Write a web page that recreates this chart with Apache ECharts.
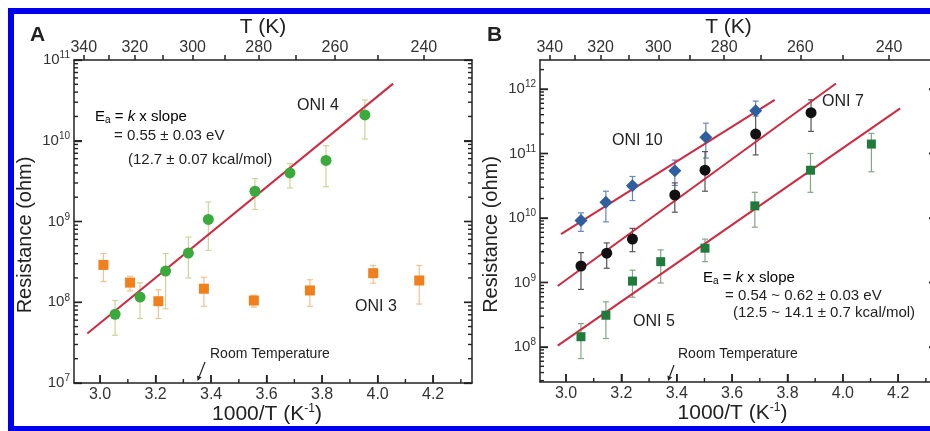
<!DOCTYPE html>
<html>
<head>
<meta charset="utf-8">
<script src="https://cdn.jsdelivr.net/npm/echarts@6/dist/echarts.min.js"></script>
<style>
  html, body { margin: 0; background: #fff; }
  #chart { width: 930px; height: 431px; }
</style>
</head>
<body>
<div id="chart"></div>
<script>
// each point: [1000/T, R, R low, R high]   (R in ohm)
const oni4 = [
  [3.054, 7.1e7, 3.9e7, 1.05e8], [3.144, 1.16e8, 6.3e7, 1.74e8], [3.236, 2.43e8, 8.3e7, 4.0e8],
  [3.318, 4.06e8, 2.0e8, 6.4e8], [3.390, 1.06e9, 4.4e8, 1.74e9], [3.558, 2.37e9, 1.41e9, 3.4e9],
  [3.684, 4.0e9, 2.6e9, 5.2e9], [3.814, 5.7e9, 2.7e9, 8.7e9], [3.954, 2.09e10, 1.05e10, 3.2e10]
];
const oni3 = [
  [3.012, 2.9e8, 1.8e8, 4.0e8], [3.108, 1.75e8, 1.38e8, 2.1e8], [3.210, 1.03e8, 6.3e7, 1.43e8],
  [3.374, 1.47e8, 8.9e7, 2.04e8], [3.554, 1.05e8, 8.7e7, 1.22e8], [3.756, 1.40e8, 8.9e7, 1.9e8],
  [3.984, 2.29e8, 1.72e8, 2.85e8], [4.150, 1.86e8, 9.5e7, 2.85e8]
];
const fitA = [[2.954, 4.1e7], [4.056, 5.1e10]];

const oni10 = [
  [3.054, 9.1e9, 6.2e9, 1.2e10], [3.144, 1.75e10, 8.7e9, 2.6e10], [3.240, 3.16e10, 1.86e10, 4.4e10],
  [3.393, 5.4e10, 3.2e10, 7.9e10], [3.505, 1.78e11, 8.5e10, 2.95e11], [3.685, 4.6e11, 3.8e11, 6.5e11]
];
const oni7 = [
  [3.054, 1.8e9, 7.8e8, 2.9e9], [3.147, 2.84e9, 1.66e9, 4.1e9], [3.240, 4.7e9, 3.0e9, 6.9e9],
  [3.393, 2.27e10, 1.23e10, 3.5e10], [3.502, 5.5e10, 2.6e10, 1.07e11], [3.685, 2.0e11, 9.5e10, 4.2e11],
  [3.885, 4.3e11, 2.2e11, 6.8e11]
];
const oni5 = [
  [3.054, 1.44e8, 6.6e7, 2.3e8], [3.144, 3.1e8, 1.35e8, 5.0e8], [3.240, 1.05e9, 5.9e8, 1.55e9],
  [3.342, 2.1e9, 9.8e8, 3.2e9], [3.502, 3.4e9, 2.1e9, 4.7e9], [3.682, 1.54e10, 7.2e9, 2.5e10],
  [3.883, 5.5e10, 2.5e10, 1.0e11], [4.103, 1.4e11, 5.2e10, 2.05e11]
];
const fit10 = [[2.982, 5.6e9], [3.754, 6.8e11]];
const fit7 = [[2.970, 8.8e8], [3.975, 1.22e12]];
const fit5 = [[2.970, 1.05e8], [4.207, 5.0e11]];

// tick labels
const xMajor = [3.0, 3.2, 3.4, 3.6, 3.8, 4.0, 4.2];
const xMinor = [3.1, 3.3, 3.5, 3.7, 3.9, 4.1, 4.3];
const tempMajor = [340, 320, 300, 280, 260, 240];
const tempMinor = [330, 310, 290, 270, 250];
const decadesA = [7, 8, 9, 10, 11];
const decadesB = [8, 9, 10, 11, 12];

const X_MIN = 2.906, X_MAX = 4.34;
const Y_A = [7, 11];
const Y_B = [7.456, 12.45];
const FONT = '"Liberation Sans", Arial, sans-serif';
const INK = '#222';

var chart = echarts.init(document.getElementById('chart'));

// resistance axis is drawn as a linear axis of log10(R)
const lg = Math.log10;

const axisLine = { show: true, onZero: false, lineStyle: { color: INK, width: 1.5 } };

function xAxes(grid) {
  const base = { gridIndex: grid, type: 'value', min: X_MIN, max: X_MAX, splitLine: { show: false } };
  return [
    Object.assign({}, base, {
      position: 'bottom',
      name: '{n|1000/T (K}{s|-1}{n|)}', nameLocation: 'middle', nameGap: 20, nameMoveOverlap: false,
      nameTextStyle: {
        padding: [0, 12, 0, 0],
        rich: { n: { fontSize: 21, color: INK, fontFamily: FONT }, s: { fontSize: 12, color: INK, fontFamily: FONT, padding: [0, 0, 10, 0] } }
      },
      axisLine: axisLine,
      axisTick: { show: true, inside: true, length: 8, customValues: xMajor, lineStyle: { color: INK, width: 1.5 } },
      axisLabel: { customValues: xMajor, formatter: v => v.toFixed(1), fontSize: 16, color: '#333', fontFamily: FONT, margin: 4 }
    }),
    Object.assign({}, base, {
      position: 'top',
      name: 'T (K)', nameLocation: 'middle', nameGap: 22, nameMoveOverlap: false,
      nameTextStyle: { fontSize: 21, color: INK, fontFamily: FONT, padding: [0, 20, 0, 0] },
      axisLine: axisLine,
      axisTick: { show: true, inside: false, length: 5, customValues: tempMajor.concat(tempMinor).map(t => 1000 / t), lineStyle: { color: INK, width: 1.5 } },
      axisLabel: { customValues: tempMajor.map(t => 1000 / t), formatter: v => String(Math.round(1000 / v)), fontSize: 16, color: '#333', fontFamily: FONT, margin: 4 }
    })
  ];
}

function yAxes(grid, min, max, decades) {
  const base = { gridIndex: grid, type: 'value', min: min, max: max, splitLine: { show: false } };
  const tick = { show: true, inside: true, length: 8, customValues: decades, lineStyle: { color: INK, width: 1.3 } };
  return [
    Object.assign({}, base, {
      position: 'left',
      name: 'Resistance (ohm)', nameLocation: 'middle', nameGap: 39, nameMoveOverlap: false,
      nameTextStyle: { fontSize: 20, color: INK, fontFamily: FONT, padding: [0, 27, 0, 0] },
      axisLine: axisLine, axisTick: tick,
      axisLabel: {
        customValues: decades, formatter: v => '{b|10}{s|' + Math.round(v) + '}', margin: 4,
        rich: { b: { fontSize: 15, color: '#333', fontFamily: FONT }, s: { fontSize: 10, color: '#333', fontFamily: FONT, padding: [0, 0, 9, 0] } }
      }
    }),
    Object.assign({}, base, { position: 'right', axisLine: axisLine, axisTick: tick, axisLabel: { show: false } })
  ];
}

// inward tick marks on the frame, placed through the axes' own scales
// item: [x, y, length, kind]  kind 0 = resistance tick (left + right edge), 1 = 1000/T tick (bottom edge)
function frameTicks(xi, yi, yMin, yMax, decades) {
  const minor = [];
  for (let n = 6; n <= 12; n++) {
    for (let k = 2; k <= 9; k++) {
      const v = lg(k) + n;
      if (v > yMin && v < yMax) minor.push(v);
    }
  }
  const data = []
    .concat(decades.map(v => [X_MIN, v, 8, 0]))
    .concat(minor.map(v => [X_MIN, v, 4, 0]))
    .concat(xMajor.map(v => [v, yMin, 8, 1]))
    .concat(xMinor.filter(v => v < X_MAX).map(v => [v, yMin, 4, 1]));
  return {
    type: 'custom', xAxisIndex: xi, yAxisIndex: yi, z: 6, silent: true, clip: false,
    data: data,
    renderItem: function (params, api) {
      const p = api.coord([api.value(0), api.value(1)]);
      const len = api.value(2);
      const st = { stroke: INK, lineWidth: 1.4 };
      if (api.value(3) === 0) {
        const r = api.coord([X_MAX, api.value(1)]);
        return {
          type: 'group', children: [
            { type: 'line', shape: { x1: p[0], y1: p[1], x2: p[0] + len, y2: p[1] }, style: st },
            { type: 'line', shape: { x1: r[0], y1: r[1], x2: r[0] - len, y2: r[1] }, style: st }
          ]
        };
      }
      return { type: 'line', shape: { x1: p[0], y1: p[1], x2: p[0], y2: p[1] - len }, style: st };
    }
  };
}

function errorBars(data, color, xi, yi) {
  return {
    type: 'custom', xAxisIndex: xi, yAxisIndex: yi, z: 2, silent: true,
    data: data.map(d => [d[0], lg(d[1]), lg(d[2]), lg(d[3])]),
    renderItem: function (params, api) {
      const x = api.value(0);
      const top = api.coord([x, api.value(3)]);
      const bot = api.coord([x, api.value(2)]);
      const w = 3;
      const st = { stroke: color, lineWidth: 1.2 };
      return {
        type: 'group', children: [
          { type: 'line', shape: { x1: top[0], y1: top[1], x2: bot[0], y2: bot[1] }, style: st },
          { type: 'line', shape: { x1: top[0] - w, y1: top[1], x2: top[0] + w, y2: top[1] }, style: st },
          { type: 'line', shape: { x1: bot[0] - w, y1: bot[1], x2: bot[0] + w, y2: bot[1] }, style: st }
        ]
      };
    }
  };
}

function points(data, symbol, size, color, xi, yi) {
  return {
    type: 'scatter', xAxisIndex: xi, yAxisIndex: yi, z: 4, symbol: symbol, symbolSize: size,
    itemStyle: { color: color, opacity: 1 },
    data: data.map(d => [d[0], lg(d[1])])
  };
}

function fitLine(data, xi, yi) {
  return {
    type: 'line', xAxisIndex: xi, yAxisIndex: yi, z: 3, symbol: 'none', silent: true,
    lineStyle: { color: '#d22840', width: 2 },
    data: data.map(d => [d[0], lg(d[1])])
  };
}

function txt(x, y, text, size, weight) {
  return {
    type: 'text', x: x, y: y, z: 10,
    style: { text: text, fontSize: size, fontWeight: weight || 'normal', fontFamily: FONT, fill: INK, verticalAlign: 'middle' }
  };
}

const eaRich = {
  n: { fontSize: 15, fontFamily: FONT, color: INK },
  sub: { fontSize: 10, fontFamily: FONT, color: INK, padding: [7, 0, 0, 0] },
  i: { fontSize: 15, fontFamily: FONT, color: INK, fontStyle: 'italic' }
};
const eaText = '{n|E}{sub|a}{n| = }{i|k}{n| x slope}';

function arrow(x1, y1, x2, y2) {
  const dx = x2 - x1, dy = y2 - y1, len = Math.hypot(dx, dy);
  const ux = dx / len, uy = dy / len, h = 5, hw = 2.5;
  const bx = x2 - ux * h, by = y2 - uy * h;
  return [
    { type: 'line', z: 10, shape: { x1: x1, y1: y1, x2: bx, y2: by }, style: { stroke: INK, lineWidth: 1.2 } },
    { type: 'polygon', z: 10, shape: { points: [[x2, y2], [bx - uy * hw, by + ux * hw], [bx + uy * hw, by - ux * hw]] }, style: { fill: INK } }
  ];
}

chart.setOption({
  backgroundColor: '#fff',
  animation: false,
  grid: [
    { left: 74, top: 60, width: 398, height: 323, outerBoundsMode: 'none' },
    { left: 540, top: 60, width: 397, height: 322, outerBoundsMode: 'none' }
  ],
  xAxis: xAxes(0).concat(xAxes(1)),
  yAxis: yAxes(0, Y_A[0], Y_A[1], decadesA).concat(yAxes(1, Y_B[0], Y_B[1], decadesB)),
  series: [
    frameTicks(0, 0, Y_A[0], Y_A[1], decadesA),
    errorBars(oni3, '#f7c08e', 0, 0),
    errorBars(oni4, '#cdd596', 0, 0),
    fitLine(fitA, 0, 0),
    points(oni3, 'rect', 10, '#f07f1c', 0, 0),
    points(oni4, 'circle', 11, '#3aaa3c', 0, 0),

    frameTicks(2, 2, Y_B[0], Y_B[1], decadesB),
    errorBars(oni10, '#6688bb', 2, 2),
    errorBars(oni7, '#555555', 2, 2),
    errorBars(oni5, '#86a58a', 2, 2),
    fitLine(fit10, 2, 2),
    fitLine(fit7, 2, 2),
    fitLine(fit5, 2, 2),
    points(oni10, 'diamond', 13, '#2f5f9f', 2, 2),
    points(oni7, 'circle', 11, '#111111', 2, 2),
    points(oni5, 'rect', 9, '#1f7a3c', 2, 2)
  ],
  graphic: [
    txt(30, 35, 'A', 21, 'bold'),
    txt(487, 35, 'B', 21, 'bold'),

    { type: 'text', x: 95, y: 117, z: 10, style: { text: eaText, rich: eaRich, verticalAlign: 'middle' } },
    txt(114, 136, '= 0.55 \u00b1 0.03 eV', 15),
    txt(128, 160, '(12.7 \u00b1 0.07 kcal/mol)', 15),
    txt(297, 106, 'ONI 4', 16),
    txt(355, 307, 'ONI 3', 16),
    txt(210, 354, 'Room Temperature', 14),

    txt(612, 141, 'ONI 10', 16),
    txt(822, 102, 'ONI 7', 16),
    txt(633, 322, 'ONI 5', 16),
    { type: 'text', x: 703, y: 278, z: 10, style: { text: eaText, rich: eaRich, verticalAlign: 'middle' } },
    txt(725, 296, '= 0.54 ~ 0.62 \u00b1 0.03 eV', 15),
    txt(733, 313, '(12.5 ~ 14.1 \u00b1 0.7 kcal/mol)', 15),
    txt(678, 354, 'Room Temperature', 14),

    { type: 'rect', z: 20, shape: { x: 11, y: 11, width: 940, height: 418 }, style: { fill: 'none', stroke: '#0000ee', lineWidth: 6 } }
  ].concat(arrow(205, 362, 197.5, 381), arrow(674, 365, 668, 381))
});
</script>
</body>
</html>
